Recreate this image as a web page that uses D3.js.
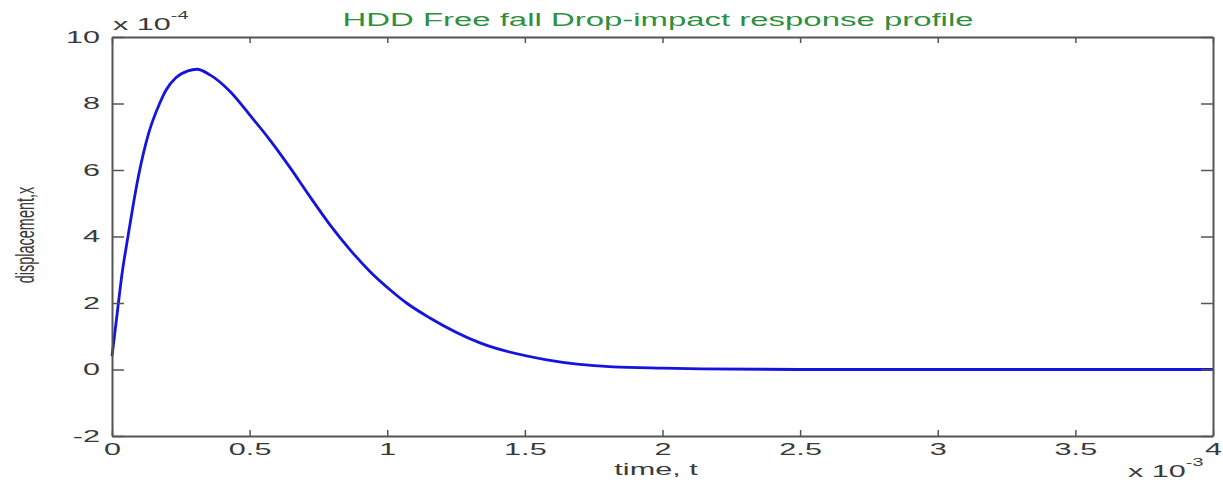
<!DOCTYPE html>
<html>
<head>
<meta charset="utf-8">
<script src="https://cdn.jsdelivr.net/npm/d3@7"></script>
<style>
  body { margin: 0; background: #fff; }
  svg { display: block; font-family: "Liberation Sans", Arial, sans-serif; }
  .axis path, .axis line { stroke: #555; }
  .axis path { stroke-width: 2; }
  .axis line { stroke-width: 1.5; }
  .axis text { fill: #3a3a3a; font-size: 17px; }
</style>
</head>
<body>
<svg id="chart"></svg>
<script>
// time in units of 1e-3 s, displacement in units of 1e-4
const timeVals = [0, 0.019, 0.036, 0.058, 0.077, 0.097, 0.133, 0.173, 0.196, 0.233, 0.276,
    0.309, 0.356, 0.429, 0.501, 0.574, 0.647, 0.719, 0.792, 0.865, 0.937, 1.01, 1.07,
    1.155, 1.337, 1.58, 1.82, 2.0, 2.14, 2.5, 3.0, 3.5, 4.0];
const dispVals = [0.4, 1.7, 2.85, 4.0, 4.95, 5.85, 7.1, 8.0, 8.4, 8.78, 8.98,
    9.03, 8.86, 8.36, 7.65, 6.9, 6.07, 5.2, 4.35, 3.6, 2.95, 2.4, 2.0,
    1.55, 0.80, 0.29, 0.08, 0.04, 0.02, 0.0, 0.0, 0.0, 0.0];
const xTicks = [0, 0.5, 1, 1.5, 2, 2.5, 3, 3.5, 4];
const yTicks = [-2, 0, 2, 4, 6, 8, 10];

const titleText = 'HDD Free fall Drop-impact response profile';
const xLabelText = 'time, t';
const yLabelText = 'displacement,x';

const config = {
    containerWidth: 1223,
    containerHeight: 485,
    margin: {top: 37, right: 10, bottom: 49, left: 112},
    stretch: 1.8 // the picture's text is widened horizontally
};
const width = config.containerWidth - config.margin.left - config.margin.right;
const height = config.containerHeight - config.margin.top - config.margin.bottom;

const data = timeVals.map((t, i) => ({t: t, v: dispVals[i]}));

const xScale = d3.scaleLinear().domain([0, 4]).range([0, width]);
const yScale = d3.scaleLinear().domain([-2, 10]).range([height, 0]);

const svg = d3.select('#chart')
    .attr('width', config.containerWidth)
    .attr('height', config.containerHeight);

const chart = svg.append('g')
    .attr('transform', `translate(${config.margin.left},${config.margin.top})`);

// curve first, axes box on top
const line = d3.line()
    .x(d => xScale(d.t))
    .y(d => yScale(d.v))
    .curve(d3.curveMonotoneX);

chart.append('path')
    .datum(data)
    .attr('fill', 'none')
    .attr('stroke', '#1414dc')
    .attr('stroke-width', 2.8)
    .attr('stroke-linejoin', 'round')
    .attr('d', line);

const plainNum = d => String(d);

// bottom axis with labels
const xAxisG = chart.append('g')
    .attr('class', 'axis x-axis')
    .attr('transform', `translate(0,${height})`)
    .call(d3.axisBottom(xScale).tickValues(xTicks).tickSizeInner(-6).tickSizeOuter(0).tickPadding(7)
        .tickFormat(plainNum));
xAxisG.selectAll('text').attr('transform', `scale(${config.stretch},1)`);

// left axis with labels
const yAxisG = chart.append('g')
    .attr('class', 'axis y-axis')
    .call(d3.axisLeft(yScale).tickValues(yTicks).tickSizeInner(-12).tickSizeOuter(0)
        .tickFormat(plainNum));
yAxisG.selectAll('text')
    .attr('x', 0)
    .attr('transform', `translate(-12,0) scale(${config.stretch},1)`);

// top and right axes, ticks only
chart.append('g')
    .attr('class', 'axis')
    .call(d3.axisTop(xScale).tickValues(xTicks).tickSizeInner(-6).tickSizeOuter(0).tickFormat(''));
chart.append('g')
    .attr('class', 'axis')
    .attr('transform', `translate(${width},0)`)
    .call(d3.axisRight(yScale).tickValues(yTicks).tickSizeInner(-12).tickSizeOuter(0).tickFormat(''));

const stretchText = (x, y, str, size, anchor, fill) => svg.append('text')
    .attr('transform', `translate(${x},${y}) scale(${config.stretch},1)`)
    .attr('text-anchor', anchor)
    .attr('font-size', size)
    .attr('fill', fill)
    .text(str);

// title
stretchText(658, 26, titleText, 18.3, 'middle', '#2f8f3f');

// x label
stretchText(656, 475, xLabelText, 17, 'middle', '#3a3a3a');

// y label, rotated
svg.append('text')
    .attr('transform', `translate(34,235) scale(${config.stretch},1) rotate(-90)`)
    .attr('text-anchor', 'middle')
    .attr('font-size', 14.5)
    .attr('fill', '#3a3a3a')
    .text(yLabelText);

// exponent labels
const expLabel = (x, y, exp) => {
    const t = stretchText(x, y, 'x 10', 17, 'start', '#3a3a3a');
    t.append('tspan')
        .attr('dy', -11)
        .attr('font-size', 11)
        .text(exp);
};
expLabel(113, 30, '-4');
expLabel(1128, 477, '-3');
</script>
</body>
</html>
